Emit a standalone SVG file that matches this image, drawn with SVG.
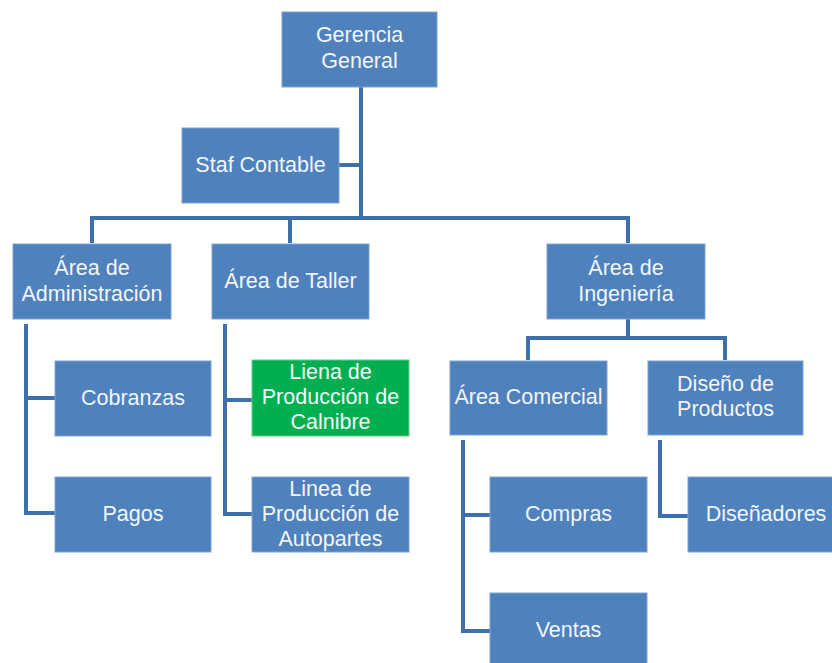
<svg xmlns="http://www.w3.org/2000/svg" width="832" height="663" viewBox="0 0 832 663">
<style>
.b{fill:#4F81BD;stroke:#7FA3D1;stroke-width:1}
.g{fill:#00B050;stroke:#5FD08F;stroke-width:1}
.t{font-family:"Liberation Sans",Arial,sans-serif;font-size:21.5px;fill:#F2F6FA;text-anchor:middle;dominant-baseline:central}
.c{fill:none;stroke:#3F70AE;stroke-width:4;stroke-linejoin:miter}
</style>
<rect width="832" height="663" fill="#ffffff"/>
<g id="connectors">
<path class="c" d="M361,87 V218"/>
<path class="c" d="M339,165 H361"/>
<path class="c" d="M92,243 V218 H628 V243"/>
<path class="c" d="M290,218 V243"/>
<path class="c" d="M628,319 V338"/>
<path class="c" d="M528,360 V338 H725 V360"/>
<path class="c" d="M26,324 V513 H55"/>
<path class="c" d="M26,398 H55"/>
<path class="c" d="M225,324 V514 H252"/>
<path class="c" d="M225,400 H252"/>
<path class="c" d="M463,440 V631 H490"/>
<path class="c" d="M463,515 H490"/>
<path class="c" d="M660,440 V516 H688"/>
</g>
<g id="gerencia"><rect class="b" x="282" y="12" width="155" height="75"/><text class="t" x="359.5" y="35">Gerencia</text><text class="t" x="359.5" y="61">General</text></g>
<g id="staf"><rect class="b" x="182" y="128" width="157" height="75"/><text class="t" x="260.5" y="165">Staf Contable</text></g>
<g id="admin"><rect class="b" x="13" y="244" width="158" height="75"/><text class="t" x="92" y="268">Área de</text><text class="t" x="92" y="294">Administración</text></g>
<g id="taller"><rect class="b" x="212" y="244" width="157" height="75"/><text class="t" x="290.5" y="281">Área de Taller</text></g>
<g id="ingenieria"><rect class="b" x="547" y="244" width="158" height="75"/><text class="t" x="626" y="268">Área de</text><text class="t" x="626" y="294">Ingeniería</text></g>
<g id="cobranzas"><rect class="b" x="55" y="361" width="156" height="75"/><text class="t" x="133" y="398">Cobranzas</text></g>
<g id="pagos"><rect class="b" x="55" y="477" width="156" height="75"/><text class="t" x="133" y="514">Pagos</text></g>
<g id="calnibre"><rect class="g" x="252" y="360" width="157" height="76"/><text class="t" x="330.5" y="372">Liena de</text><text class="t" x="330.5" y="397">Producción de</text><text class="t" x="330.5" y="422">Calnibre</text></g>
<g id="autopartes"><rect class="b" x="252" y="477" width="157" height="75"/><text class="t" x="330.5" y="489">Linea de</text><text class="t" x="330.5" y="514">Producción de</text><text class="t" x="330.5" y="539">Autopartes</text></g>
<g id="comercial"><rect class="b" x="450" y="361" width="157" height="74"/><text class="t" x="528.5" y="397">Área Comercial</text></g>
<g id="diseno"><rect class="b" x="648" y="361" width="155" height="74"/><text class="t" x="725.5" y="384">Diseño de</text><text class="t" x="725.5" y="409">Productos</text></g>
<g id="compras"><rect class="b" x="490" y="477" width="157" height="75"/><text class="t" x="568.5" y="514">Compras</text></g>
<g id="ventas"><rect class="b" x="490" y="593" width="157" height="75"/><text class="t" x="568.5" y="630">Ventas</text></g>
<g id="disenadores"><rect class="b" x="688" y="477" width="157" height="75"/><text class="t" x="766" y="514">Diseñadores</text></g>
</svg>
